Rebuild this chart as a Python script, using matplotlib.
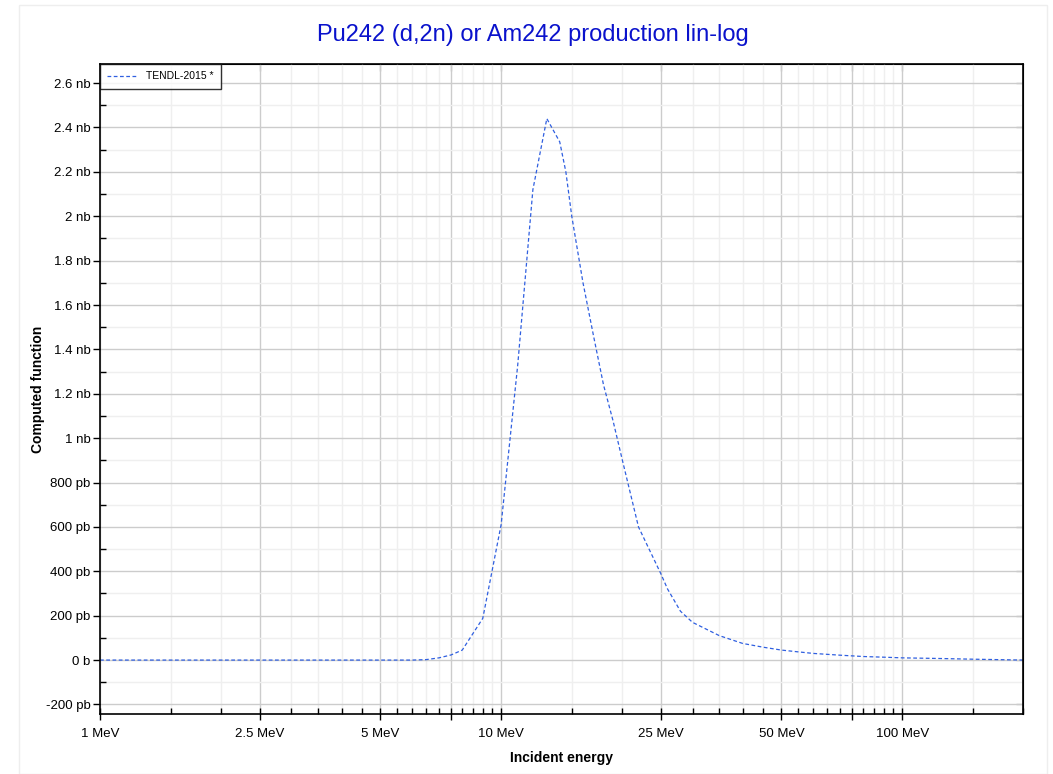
import numpy as np
import matplotlib
matplotlib.use('Agg')
from matplotlib import pyplot as plt
from matplotlib.ticker import FixedLocator, FuncFormatter
from matplotlib.patches import Rectangle

plt.rcParams['font.family'] = ['Liberation Sans', 'DejaVu Sans']

# incident energy (MeV) and cross section (nb)
energy = [1, 2, 3, 4, 5, 6, 6.5, 7, 7.5, 8, 9, 10, 11, 12, 13, 14, 14.5, 15, 16,
          17, 18, 19, 20, 22, 25, 26, 28, 30, 35, 40, 45, 50, 55, 60, 70,
          80, 90, 100, 125, 150, 200]
xs_nb = [0, 0, 0, 0, 0, 0, 0.002, 0.01, 0.023, 0.045, 0.188, 0.61, 1.33, 2.12,
         2.44, 2.335, 2.2, 2.0, 1.7, 1.46, 1.24, 1.08, 0.91, 0.6, 0.39,
         0.32, 0.22, 0.17, 0.11, 0.075, 0.058, 0.045, 0.037, 0.03, 0.022,
         0.016, 0.013, 0.01, 0.007, 0.004, 0.0]

x_major = [1, 2.5, 5, 7.5, 10, 25, 50, 75, 100]
x_labels = ['1 MeV', '2.5 MeV', '5 MeV', '', '10 MeV', '25 MeV', '50 MeV', '', '100 MeV']
x_minor = list(np.arange(1.5, 10, 0.5)) + list(np.arange(15, 100, 5)) + [150, 200]
x_minor = [v for v in x_minor if v not in x_major]
y_major = np.arange(-0.2, 2.61, 0.2)
y_minor = np.arange(-0.1, 2.7, 0.2)

title = 'Pu242 (d,2n) or Am242 production lin-log'
series_name = 'TENDL-2015 *'


def ylab(v, pos):
    v = round(v, 6)
    if v == 0:
        return '0 b'
    if abs(v) < 1:
        return '%d pb' % round(v * 1000)
    return '%g nb' % v


fig = plt.figure(figsize=(10.53, 7.74), dpi=100)
ax = fig.add_axes([100/1053, 1 - 714/774, 923/1053, 650/774])

fig.patches.append(Rectangle((19/1053, 0), 1028/1053, 1 - 5/774, transform=fig.transFigure,
                             fill=False, edgecolor='#eeeeee', lw=1))

ax.plot(energy, xs_nb, color='#2f5fe0', lw=0.9, dashes=(3, 2), label=series_name)

ax.set_xscale('log')
ax.set_xlim(1, 200)
ax.set_ylim(-0.243, 2.686)

ax.xaxis.set_major_locator(FixedLocator(x_major))
ax.xaxis.set_major_formatter(FuncFormatter(lambda v, p: x_labels[x_major.index(v)] if v in x_major else ''))
ax.xaxis.set_minor_locator(FixedLocator(x_minor))
ax.xaxis.set_minor_formatter(FuncFormatter(lambda v, p: ''))
ax.yaxis.set_major_locator(FixedLocator(y_major))
ax.yaxis.set_major_formatter(FuncFormatter(ylab))
ax.yaxis.set_minor_locator(FixedLocator(y_minor))

ax.grid(True, which='major', color='#cccccc', lw=1)
ax.grid(True, which='minor', color='#efefef', lw=1)
ax.set_axisbelow(True)

ax.tick_params(which='major', direction='inout', length=8, width=1, labelsize=9.5, colors='black')
ax.tick_params(which='minor', direction='in', length=4, width=1)
ax.tick_params(axis='x', pad=6)
ax.tick_params(axis='y', direction='out', length=5, pad=2)

for s in ax.spines.values():
    s.set_linewidth(1.2)

top = ax.secondary_xaxis('top')
top.xaxis.set_major_locator(FixedLocator(x_major))
top.xaxis.set_minor_locator(FixedLocator(x_minor))
top.tick_params(which='both', direction='in', labeltop=False)
top.tick_params(which='major', length=5)
top.tick_params(which='minor', length=4)
right = ax.secondary_yaxis('right')
right.yaxis.set_major_locator(FixedLocator(y_major))
right.yaxis.set_minor_locator(FixedLocator(y_minor))
right.tick_params(which='both', direction='in', labelright=False)
right.tick_params(which='major', length=5)
right.tick_params(which='minor', length=4)

ax.set_xlabel('Incident energy', fontsize=10, fontweight='bold')
ax.xaxis.set_label_coords(0.5, -0.057)
ax.set_ylabel('Computed function', fontsize=10, fontweight='bold')
ax.yaxis.set_label_coords(-0.06, 0.5)
fig.text(533/1053, 1 - 35/774, title, color='#0a12cc', fontsize=17, ha='center', va='center')

leg = ax.legend(loc='upper left', bbox_to_anchor=(0, 1), borderaxespad=0, fontsize=7.5,
                frameon=True, fancybox=False, handlelength=2.8, handletextpad=0.9,
                borderpad=0.7)
leg.get_frame().set_edgecolor('black')
leg.get_frame().set_linewidth(1)

fig.savefig('out.png', dpi=100)
